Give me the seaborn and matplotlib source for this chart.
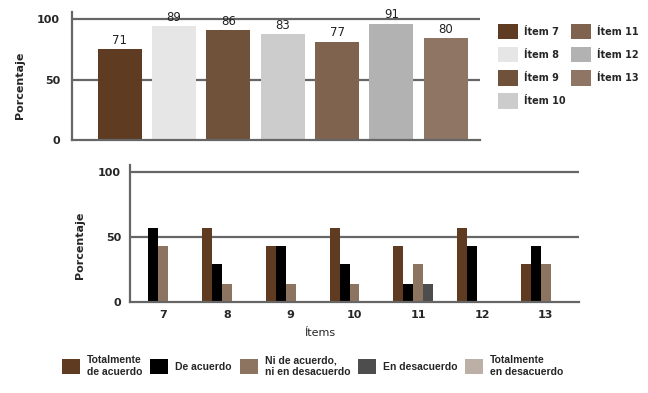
import pandas as pd
import matplotlib
matplotlib.use('Agg')
import matplotlib.pyplot as plt
from matplotlib.patches import Patch
import seaborn as sns

# Top chart: percentage per item
top_items = ['Ítem 7', 'Ítem 8', 'Ítem 9', 'Ítem 10', 'Ítem 11', 'Ítem 12', 'Ítem 13']
top_values = [71, 89, 86, 83, 77, 91, 80]
top_colors = ['#5e3b21', '#e6e6e6', '#70513a', '#cccccc', '#80634e', '#b2b2b2', '#8f7664']

# Bottom chart: answer distribution per item
items = ['7', '8', '9', '10', '11', '12', '13']
totalmente_acuerdo = [0, 57, 43, 57, 43, 57, 29]
de_acuerdo = [57, 29, 43, 29, 14, 43, 43]
ni_ni = [43, 14, 14, 14, 29, 0, 29]
en_desacuerdo = [0, 0, 0, 0, 14, 0, 0]
totalmente_desacuerdo = [0, 0, 0, 0, 0, 0, 0]
answers = ['Totalmente\nde acuerdo', 'De acuerdo', 'Ni de acuerdo,\nni en desacuerdo',
           'En desacuerdo', 'Totalmente\nen desacuerdo']
answer_colors = ['#5f3b22', '#000000', '#8c7461', '#4d4d4d', '#bcafa5']

GRID = '#666666'

sns.set_style('white')
plt.rcParams['font.family'] = ['DejaVu Sans']

fig = plt.figure(figsize=(6.48, 3.93), dpi=100)
ax1 = fig.add_axes([0.1111, 0.6425, 0.6296, 0.327])
ax2 = fig.add_axes([0.2006, 0.2323, 0.6929, 0.3478])


def style_axis(ax, ticks, ticklabels):
    for side in ['top', 'right']:
        ax.spines[side].set_visible(False)
    for side in ['left', 'bottom']:
        ax.spines[side].set_color(GRID)
        ax.spines[side].set_linewidth(1.6)
    for t in ticks[1:]:
        ax.axhline(t, color=GRID, lw=1.6, zorder=0.5)
    ax.set_yticks(ticks)
    ax.set_yticklabels(ticklabels, fontweight='bold', fontsize=8)
    ax.tick_params(axis='both', length=0)


# ---- top chart ----
sns.barplot(x=top_items, y=top_values, hue=top_items, palette=top_colors,
            width=0.81, saturation=1, legend=False, errorbar=None,
            linewidth=0, ax=ax1)
ax1.set_xlim(-0.88, 6.63)
ax1.set_ylim(0, 100)
# the original draws its "50" and "100" gridlines a bit lower than true 50/100
style_axis(ax1, [0, 47.3, 94.5], ['0', '50', '100'])
ax1.tick_params(axis='y', pad=8.5)
ax1.set_xticks([])
ax1.set_xlabel('')
ax1.set_ylabel('Porcentaje', fontweight='bold', fontsize=8)
ax1.yaxis.set_label_coords(-0.115, 0.432)
for i, v in enumerate(top_values):
    ax1.annotate(str(v), (i, v), xytext=(0, 1.5), textcoords='offset points',
                 ha='center', va='bottom', fontsize=8.5, color='#222222')

handles = [Patch(facecolor=c, edgecolor='none') for c in top_colors]
fig.legend(handles, top_items, loc='upper left', bbox_to_anchor=(0.7685, 0.939),
           ncol=2, frameon=False, borderpad=0, borderaxespad=0,
           handlelength=2.05, handleheight=2.05, handletextpad=0.6,
           labelspacing=0.8, columnspacing=0.6,
           prop={'weight': 'bold', 'size': 7})

# ---- bottom chart ----
df = pd.DataFrame({
    'Ítem': items * 5,
    'Porcentaje': totalmente_acuerdo + de_acuerdo + ni_ni + en_desacuerdo + totalmente_desacuerdo,
    'Respuesta': [a for a in answers for _ in items],
})
sns.barplot(data=df, x='Ítem', y='Porcentaje', hue='Respuesta', hue_order=answers,
            palette=answer_colors, width=0.78, saturation=1, legend=False,
            errorbar=None, linewidth=0, ax=ax2)
ax2.set_xlim(-0.52, 6.52)
ax2.set_ylim(0, 105.3)
style_axis(ax2, [0, 50, 100], ['0', '50', '100'])
ax2.tick_params(axis='y', pad=6.5)
ax2.tick_params(axis='x', pad=6)
for lbl in ax2.get_xticklabels():
    lbl.set_fontweight('bold')
    lbl.set_fontsize(8)
ax2.set_ylabel('Porcentaje', fontsize=8, fontweight='bold')
ax2.yaxis.set_label_coords(-0.10, 0.415)
ax2.set_xlabel('Ítems', fontsize=8)
ax2.xaxis.set_label_coords(0.423, -0.19)

handles = [Patch(facecolor=c, edgecolor='none') for c in answer_colors]
fig.legend(handles, answers, loc='center left', bbox_to_anchor=(0.0957, 0.069),
           ncol=5, frameon=False, borderpad=0, borderaxespad=0,
           handlelength=1.75, handleheight=1.9, handletextpad=0.65,
           columnspacing=0.75,
           prop={'family': ['Liberation Sans Narrow', 'Liberation Sans'],
                 'weight': 'bold', 'size': 7.5})

fig.savefig('out.png', dpi=100)
